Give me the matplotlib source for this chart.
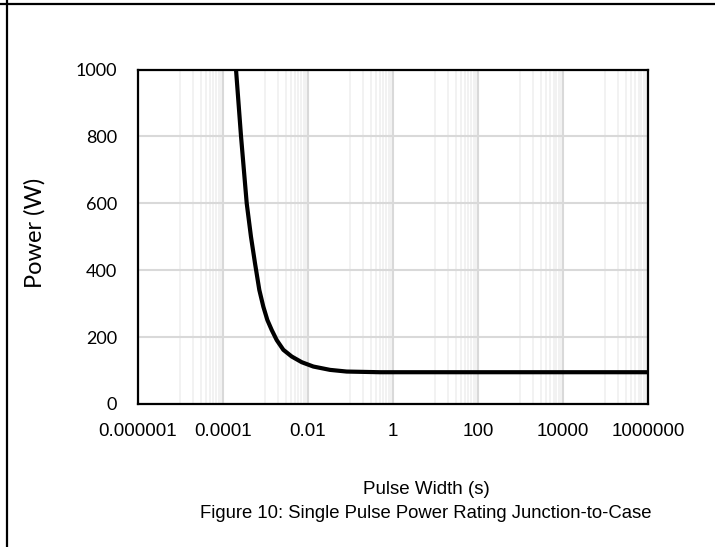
import matplotlib
matplotlib.use("Agg")
import matplotlib.pyplot as plt
from matplotlib.lines import Line2D

# ---- data ----
pulse_width_s = [2.05e-4, 2.69e-4, 3.66e-4, 4.61e-4, 5.73e-4, 7.24e-4, 9.0e-4,
                 1.12e-3, 1.42e-3, 1.86e-3, 2.66e-3, 4.18e-3, 7.19e-3,
                 1.35e-2, 3.33e-2, 8.2e-2, 0.5, 1e6]
power_w = [1000, 800, 600, 500, 421, 341, 291,
           251, 221, 191, 162, 142, 125,
           112, 102, 97, 95, 95]

x_tick_values = [1e-6, 1e-4, 1e-2, 1, 1e2, 1e4, 1e6]
x_tick_labels = ["0.000001", "0.0001", "0.01", "1", "100", "10000", "1000000"]
y_tick_values = [0, 200, 400, 600, 800, 1000]
y_tick_labels = ["0", "200", "400", "600", "800", "1000"]

x_label = "Pulse Width (s)"
y_label = "Power (W)"
caption = "Figure 10: Single Pulse Power Rating Junction-to-Case"

W, H = 715, 547
fig = plt.figure(figsize=(W / 100, H / 100), dpi=100)
fig.patch.set_facecolor("white")

L, R, T, B = 137.7, 648.0, 69.5, 404.0
ax = fig.add_axes([L / W, 1 - B / H, (R - L) / W, (B - T) / H])

ax.set_xscale("log")
ax.set_xlim(1e-6, 1e6)
ax.set_ylim(0, 1000)

# minor gridlines: 1..9 x 10^(odd decade) between each labelled decade
minor = []
for e in range(-5, 6, 2):
    for k in range(1, 10):
        minor.append(k * 10.0 ** e)
ax.set_xticks(x_tick_values)
ax.set_xticklabels(x_tick_labels, fontfamily="Liberation Sans", fontsize=13.5)
ax.set_xticks(minor, minor=True)
ax.set_xticklabels([], minor=True)
ax.set_yticks(y_tick_values)
ax.set_yticklabels(y_tick_labels, fontfamily="Lato", fontsize=13)

ax.tick_params(axis="both", which="both", length=0)
ax.tick_params(axis="x", which="major", pad=14)
ax.tick_params(axis="y", which="major", pad=15)

ax.grid(True, axis="x", which="minor", color="#f0f0f0", linewidth=1.2)
ax.grid(True, axis="x", which="major", color="#d9d9d9", linewidth=1.5)
ax.grid(True, axis="y", which="major", color="#d9d9d9", linewidth=1.5)
ax.set_axisbelow(True)

for s in ax.spines.values():
    s.set_color("black")
    s.set_linewidth(1.6)

ax.plot(pulse_width_s, power_w, color="black", linewidth=3.0,
        solid_capstyle="butt", solid_joinstyle="round", clip_on=True, zorder=3)

fig.text(35 / W, 1 - 233 / H, y_label, rotation=90, ha="center", va="center",
         fontfamily="Lato", fontsize=17)
fig.text(426 / W, 1 - 489 / H, x_label, ha="center", va="center",
         fontfamily="Liberation Sans", fontsize=13.5)
fig.text(426 / W, 1 - 514 / H, caption, ha="center", va="center",
         fontfamily="Liberation Sans", fontsize=13.3)

# page border lines (top and left)
fig.add_artist(Line2D([0, 1], [1 - 4 / H, 1 - 4 / H], transform=fig.transFigure,
                      color="black", linewidth=1.6))
fig.add_artist(Line2D([6.5 / W, 6.5 / W], [0, 1], transform=fig.transFigure,
                      color="black", linewidth=1.6))

fig.savefig("out.png", dpi=100)
